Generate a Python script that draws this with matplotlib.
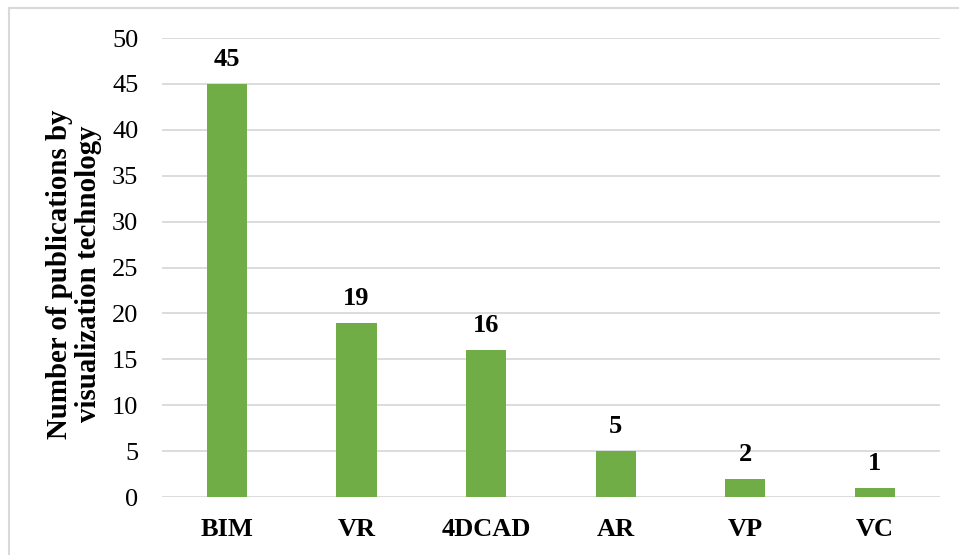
import matplotlib.pyplot as plt
from matplotlib.lines import Line2D

# data
techs = ["BIM", "VR", "4DCAD", "AR", "VP", "VC"]
counts = [45, 19, 16, 5, 2, 1]
yticks = [0, 5, 10, 15, 20, 25, 30, 35, 40, 45, 50]

plt.rcParams['font.family'] = ['Liberation Serif', 'DejaVu Serif']

fig = plt.figure(figsize=(9.59, 5.55), dpi=100)
ax = fig.add_axes([0.1689, 0.1045, 0.98 - 0.1689, 0.9315 - 0.1045])

x = list(range(len(techs)))
ax.bar(x, counts, width=0.31, color="#70AD47", zorder=3)

# value labels above bars
for xi, c in zip(x, counts):
    ax.text(xi, c + 1.4, str(c), ha="center", va="bottom",
            fontsize=19, fontweight="bold")

ax.set_xlim(-0.5, 5.5)
ax.set_ylim(0, 50)
ax.set_yticks(yticks)
ax.set_xticks(x)
ax.set_xticklabels(techs, fontsize=19, fontweight="bold")
ax.tick_params(axis="y", labelsize=19, length=0, pad=17)
ax.tick_params(axis="x", length=0, pad=15)
ax.grid(axis="y", color="#D9D9D9", linewidth=1.3, zorder=0)
for s in ax.spines.values():
    s.set_visible(False)

fig.text(74 / 959, 1 - 274 / 555,
         "Number of publications by\nvisualization technology",
         rotation=90, ha="center", va="center", multialignment="center",
         fontsize=20.8, fontweight="bold", linespacing=1.05)

# light frame (top and left edges visible)
fig.add_artist(Line2D([9 / 959, 1], [1 - 8 / 555, 1 - 8 / 555],
                      transform=fig.transFigure, color="#D9D9D9", lw=1.5))
fig.add_artist(Line2D([9 / 959, 9 / 959], [0, 1 - 8 / 555],
                      transform=fig.transFigure, color="#D9D9D9", lw=1.5))

fig.savefig("out.png", dpi=100)
